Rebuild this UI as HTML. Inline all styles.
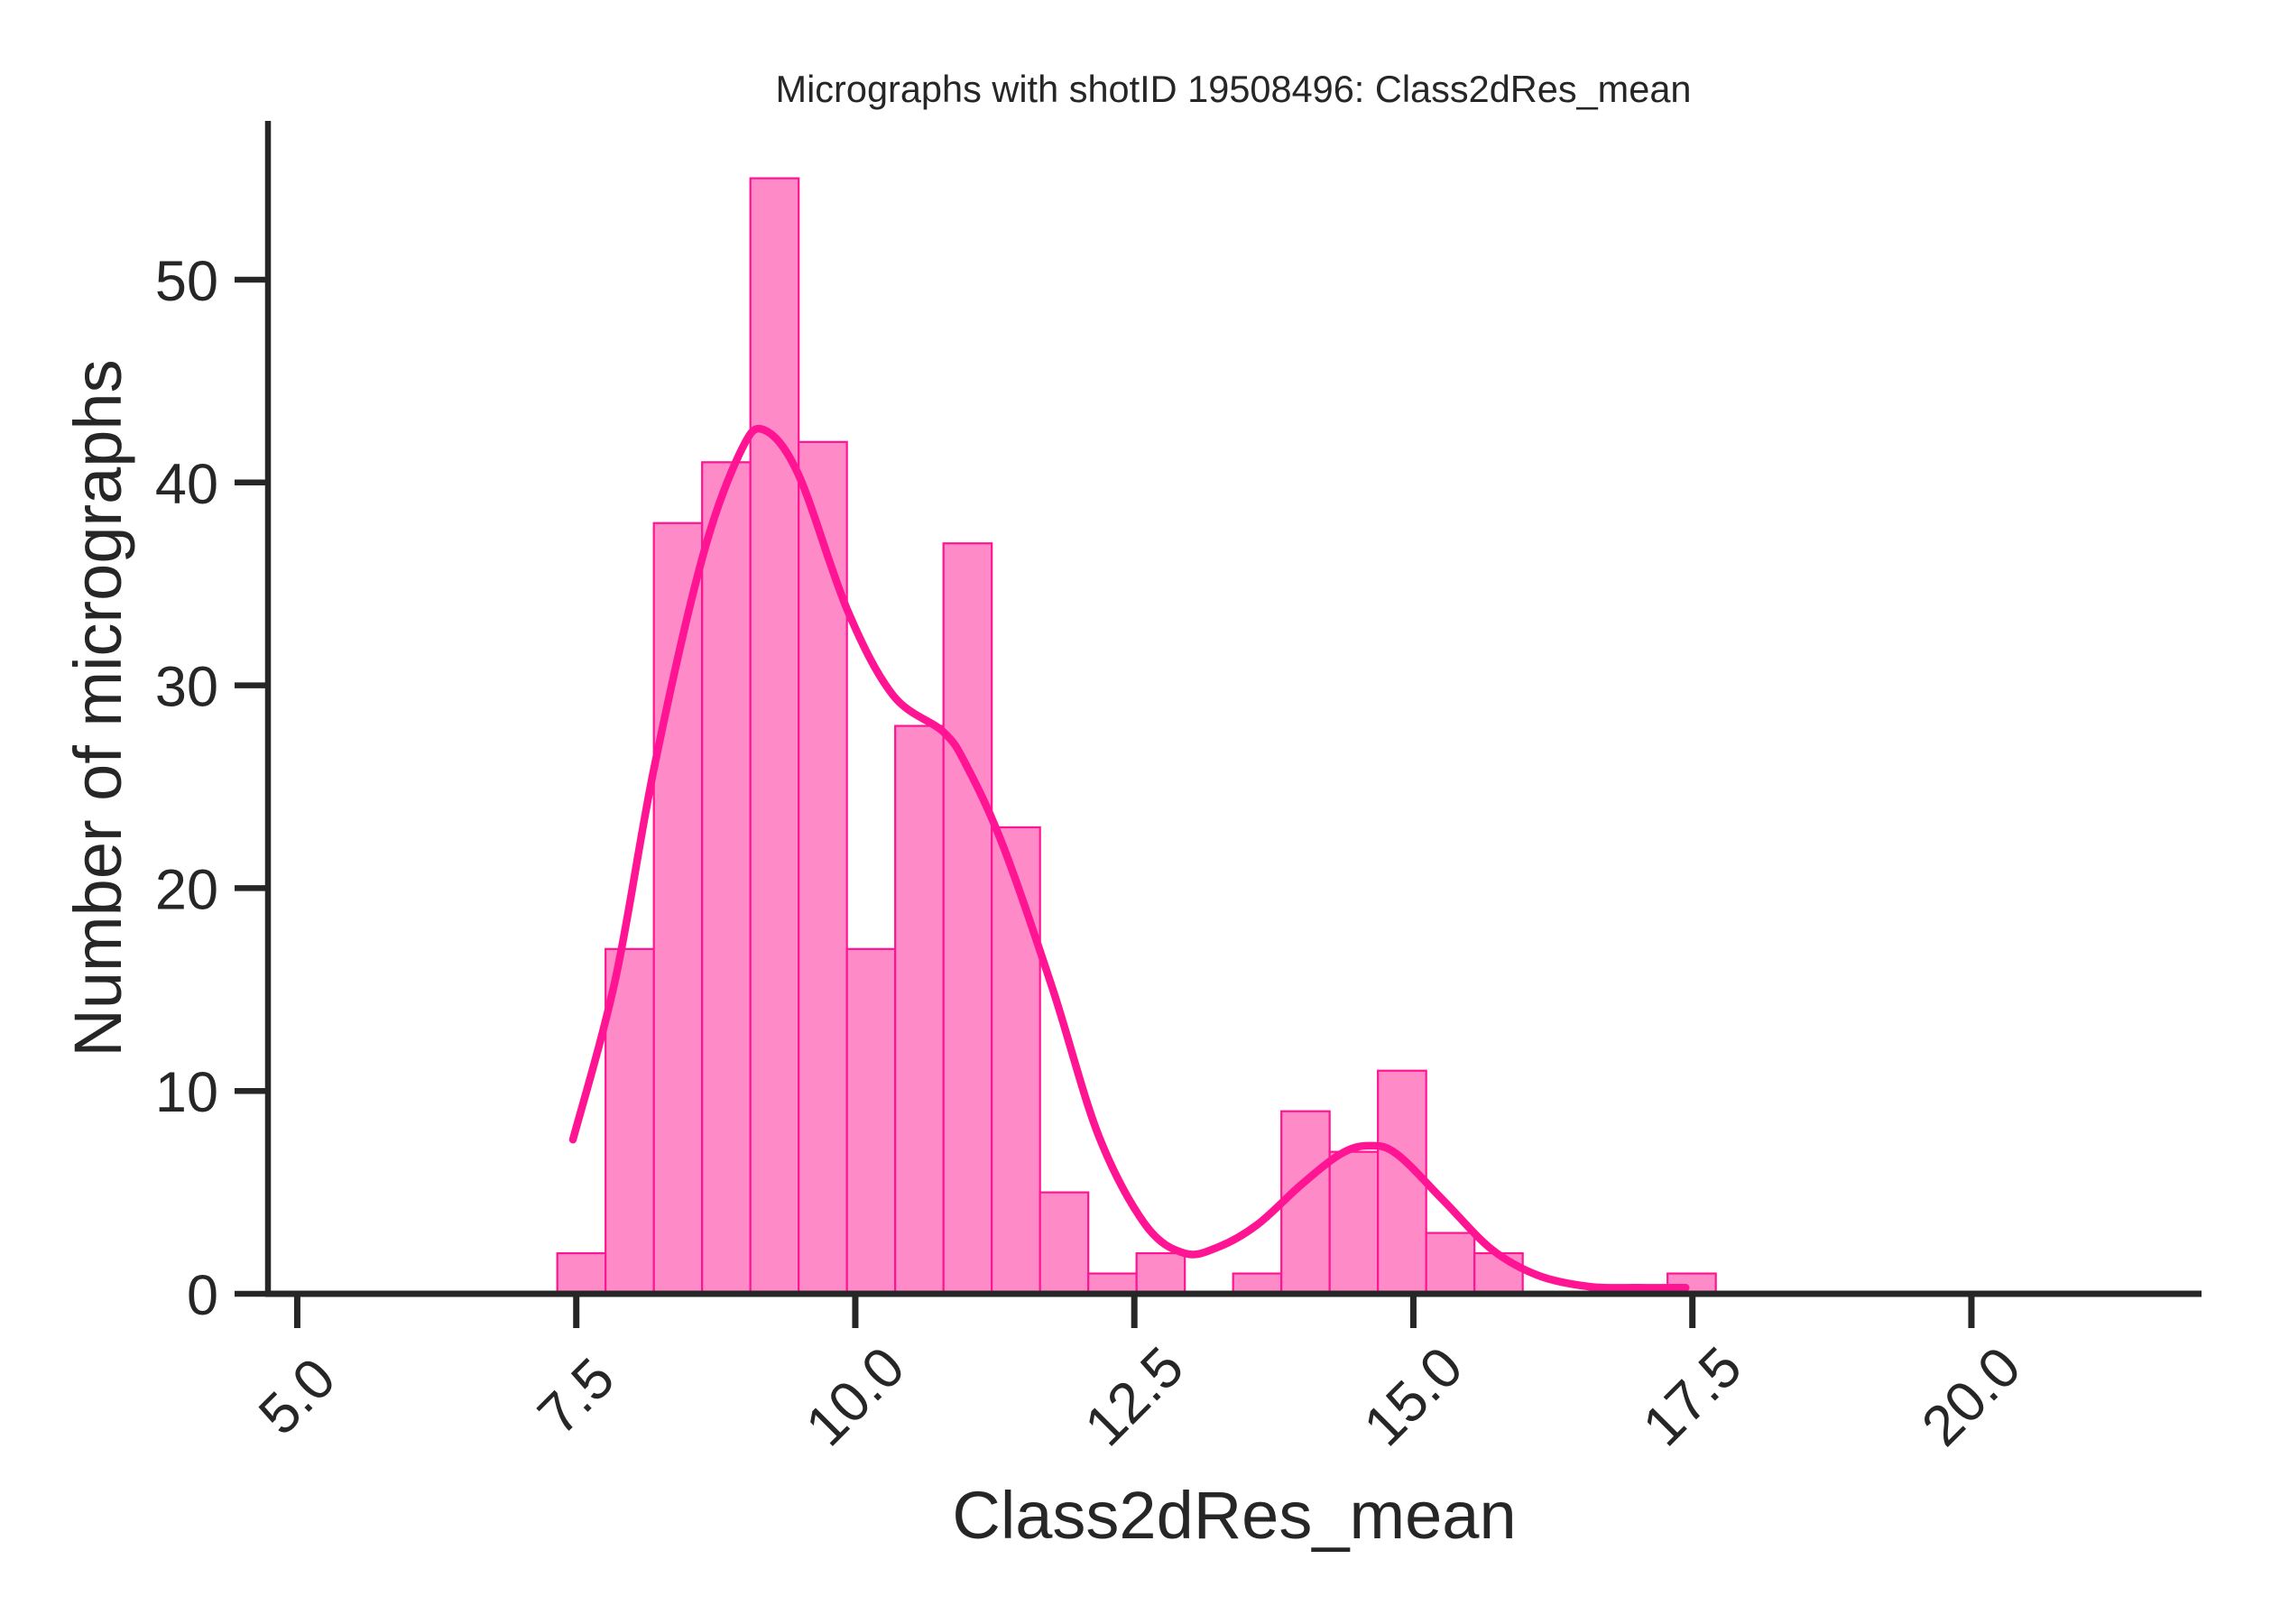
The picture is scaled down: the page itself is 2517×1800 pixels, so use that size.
<!DOCTYPE html>
<html><head><meta charset="utf-8"><style>
body{margin:0;background:#fff;}
svg{display:block;font-family:"Liberation Sans",sans-serif;}
</style></head><body>
<svg id="chart" width="2517" height="1800" viewBox="0 0 2517 1800" xmlns="http://www.w3.org/2000/svg">
<rect width="2517" height="1800" fill="#fff"/>
<text x="1367" y="113" font-size="41.5" text-anchor="middle" fill="#262626">Micrographs with shotID 19508496: Class2dRes_mean</text>
<g id="bars"></g>
<g id="kde"></g>
<g id="axes"></g>
<text x="1368" y="1705" font-size="74" text-anchor="middle" fill="#262626">Class2dRes_mean</text>
<text transform="translate(134,785) rotate(-90)" font-size="74" text-anchor="middle" fill="#262626">Number of micrographs</text>
</svg>
<script>
const binStart = 7.33;
const binWidth = 0.4325;
const counts = [2,17,38,41,55,42,17,28,37,23,5,1,2,0,1,9,7,11,3,2,0,0,0,1];
const kdeX = [7.47,7.85,8.2,8.63,8.97,9.18,9.49,9.93,10.34,10.79,11.0,11.33,11.77,12.18,12.6,12.95,13.25,13.6,14.0,14.35,14.6,14.85,15.27,15.7,16.12,16.58,17.0,17.44];
const kdeY = [7.6,15.5,26,36.3,41.5,42.6,40.4,33.7,29.5,27.7,26,22,15,7.8,3.4,2.0,2.3,3.4,5.4,6.9,7.3,6.9,4.6,2.2,0.9,0.35,0.3,0.3];
const xTicks = [5.0,7.5,10.0,12.5,15.0,17.5,20.0];
const xTickLabels = ["5.0","7.5","10.0","12.5","15.0","17.5","20.0"];
const yTicks = [0,10,20,30,40,50];
const yTickLabels = ["0","10","20","30","40","50"];

const NS = "http://www.w3.org/2000/svg";
const X = v => 638.7 + (v - 7.5) * 123.7;
const Y = v => 1434 - v * 22.48;
function mk(tag, attrs, parent){const e=document.createElementNS(NS,tag);for(const k in attrs)e.setAttribute(k,attrs[k]);parent.appendChild(e);return e;}

const bars = document.getElementById('bars');
counts.forEach((c,i)=>{
  if(c<=0) return;
  const x0 = X(binStart + i*binWidth), x1 = X(binStart + (i+1)*binWidth);
  const r = mk('rect',{x:x0,y:Y(c),width:x1-x0,height:Y(0)-Y(c),fill:'#ff8ac8',stroke:'#ff1493','stroke-width':2.2},bars);
  
  
});

const pts = kdeX.map((v,i)=>[X(v),Y(kdeY[i])]);
let d = `M${pts[0][0]},${pts[0][1]}`;
for(let i=0;i<pts.length-1;i++){
  const p0=pts[Math.max(0,i-1)],p1=pts[i],p2=pts[i+1],p3=pts[Math.min(pts.length-1,i+2)];
  const c1=[p1[0]+(p2[0]-p0[0])/6,p1[1]+(p2[1]-p0[1])/6];
  const c2=[p2[0]-(p3[0]-p1[0])/6,p2[1]-(p3[1]-p1[1])/6];
  d+=` C${c1[0]},${c1[1]} ${c2[0]},${c2[1]} ${p2[0]},${p2[1]}`;
}
const kl = mk('path',{d:d,fill:'none',stroke:'#ff1493','stroke-width':8.5,'stroke-linecap':'round','stroke-linejoin':'round'},document.getElementById('kde'));



const axes = document.getElementById('axes');
const ya = mk('line',{x1:297,y1:134,x2:297,y2:1437,stroke:'#262626','stroke-width':6.5},axes);


const xa = mk('line',{x1:294,y1:1434,x2:2440,y2:1434,stroke:'#262626','stroke-width':7},axes);



xTicks.forEach((v,i)=>{
  const t = mk('line',{x1:X(v),y1:1434,x2:X(v),y2:1472,stroke:'#262626','stroke-width':7},axes);
  
  
  const lab = mk('text',{x:0,y:0,'font-size':63,'text-anchor':'middle','dominant-baseline':'central',fill:'#262626',transform:`translate(${X(v)},1548) rotate(-45)`},axes);
  lab.textContent = xTickLabels[i];
  
  
});
yTicks.forEach((v,i)=>{
  const t = mk('line',{x1:260,y1:Y(v),x2:297,y2:Y(v),stroke:'#262626','stroke-width':6.5},axes);
  
  
  const lab = mk('text',{x:242,y:Y(v)+23,'font-size':63,'text-anchor':'end',fill:'#262626'},axes);
  lab.textContent = yTickLabels[i];
  
  
});
</script>
</body></html>
